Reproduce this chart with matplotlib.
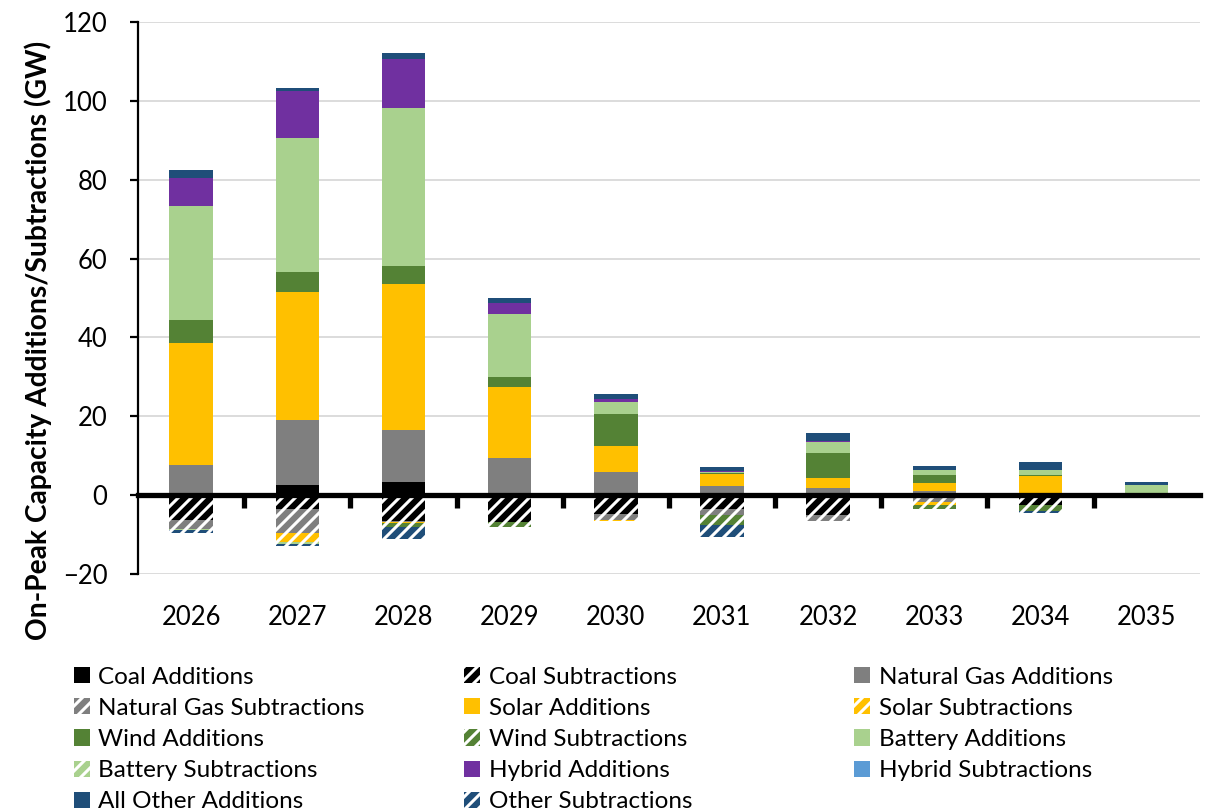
import matplotlib
matplotlib.use("Agg")
import matplotlib.pyplot as plt
import numpy as np
from matplotlib.patches import Patch

DPI = 156
S = 100.0 / DPI

plt.rcParams['font.family'] = ['Lato', 'DejaVu Sans']
plt.rcParams['hatch.linewidth'] = 2.2 * S
HATCH = '////'

years = ['2026', '2027', '2028', '2029', '2030', '2031', '2032', '2033', '2034', '2035']

# Additions (GW)
coal_add    = [0.0, 2.5, 3.4, 0.0, 0.0, 0.0, 0.0, 0.0, 0.0, 0.0]
gas_add     = [7.6, 16.5, 13.1, 9.4, 5.8, 2.4, 1.9, 1.0, 0.0, 0.0]
solar_add   = [31.1, 32.5, 37.1, 18.0, 6.6, 2.9, 2.5, 2.1, 4.8, 0.0]
wind_add    = [5.7, 5.1, 4.5, 2.6, 8.1, 0.3, 6.3, 2.1, 0.2, 0.3]
battery_add = [28.9, 34.0, 40.0, 15.9, 3.1, 0.3, 2.8, 1.1, 1.3, 2.2]
hybrid_add  = [7.2, 11.8, 12.6, 2.8, 0.9, 0.2, 0.3, 0.0, 0.0, 0.0]
other_add   = [1.9, 0.8, 1.4, 1.3, 1.1, 1.0, 2.0, 1.1, 2.2, 0.8]

# Subtractions (GW)
coal_sub    = [-6.2, -3.6, -6.5, -6.8, -4.8, -3.4, -5.1, 0.0, -2.5, 0.0]
gas_sub     = [-2.3, -6.0, -0.2, 0.0, -1.5, -1.7, -1.4, -1.7, 0.0, -0.8]
solar_sub   = [0.0, -2.2, -0.3, 0.0, -0.2, 0.0, 0.0, -0.8, 0.0, 0.0]
wind_sub    = [0.0, 0.0, -1.0, -1.2, 0.0, -2.5, 0.0, -1.0, -1.5, 0.0]
battery_sub = [-0.3, -0.5, 0.0, 0.0, 0.0, 0.0, 0.0, 0.0, 0.0, 0.0]
hybrid_sub  = [0.0, 0.0, 0.0, 0.0, 0.0, 0.0, 0.0, 0.0, 0.0, 0.0]
other_sub   = [-0.8, -0.5, -3.0, 0.0, 0.0, -3.1, 0.0, 0.0, -0.4, 0.0]

c_coal, c_gas, c_solar, c_wind = '#000000', '#7F7F7F', '#FFC000', '#548235'
c_batt, c_hyb, c_other, c_hybsub = '#A9D18E', '#7030A0', '#1F4E79', '#5B9BD5'

add_series = [('Coal Additions', coal_add, c_coal),
              ('Natural Gas Additions', gas_add, c_gas),
              ('Solar Additions', solar_add, c_solar),
              ('Wind Additions', wind_add, c_wind),
              ('Battery Additions', battery_add, c_batt),
              ('Hybrid Additions', hybrid_add, c_hyb),
              ('All Other Additions', other_add, c_other)]
sub_series = [('Coal Subtractions', coal_sub, c_coal),
              ('Natural Gas Subtractions', gas_sub, c_gas),
              ('Solar Subtractions', solar_sub, c_solar),
              ('Wind Subtractions', wind_sub, c_wind),
              ('Battery Subtractions', battery_sub, c_batt),
              ('Hybrid Subtractions', hybrid_sub, c_hybsub),
              ('Other Subtractions', other_sub, c_other)]

fig = plt.figure(figsize=(1212 / DPI, 812 / DPI), dpi=DPI)
ax = fig.add_axes([0.1139, 0.293, 0.876, 0.680])

x = np.arange(len(years))
w = 0.41
handles = {}
bottom = np.zeros(len(years))
for name, vals, col in add_series:
    v = np.array(vals)
    ax.bar(x, v, w, bottom=bottom, color=col, linewidth=0, zorder=3)
    handles[name] = Patch(facecolor=col, edgecolor='none')
    bottom += v
bottom = np.zeros(len(years))
for name, vals, col in sub_series:
    v = np.array(vals)
    if name == 'Hybrid Subtractions':
        ax.bar(x, v, w, bottom=bottom, color=col, linewidth=0, zorder=3)
        handles[name] = Patch(facecolor=col, edgecolor='none')
    else:
        ax.bar(x, v, w, bottom=bottom, facecolor=col, edgecolor='white',
               hatch=HATCH, linewidth=0, zorder=3)
        handles[name] = Patch(facecolor=col, edgecolor='white', hatch=HATCH, linewidth=0)
    bottom += v

ax.set_ylim(-20, 120)
ax.set_xlim(-0.5, len(years) - 0.5)
ax.set_yticks(np.arange(-20, 121, 20))
ax.yaxis.grid(True, color='#D9D9D9', linewidth=1.3 * S, zorder=0)
ax.set_axisbelow(True)
for s in ['top', 'right']:
    ax.spines[s].set_visible(False)
ax.spines['left'].set_linewidth(1.6 * S)
ax.spines['bottom'].set_position(('data', 0))
ax.spines['bottom'].set_linewidth(3.8 * S)
ax.spines['bottom'].set_zorder(4)
ax.set_xticks(x)
ax.set_xticklabels([])
ax.tick_params(axis='x', which='major', length=0)
ax.set_xticks(np.arange(0.5, len(years) - 0.5, 1.0), minor=True)
ax.tick_params(axis='x', which='minor', length=9 * S, width=3.8 * S, direction='out')
ax.tick_params(axis='y', length=6 * S, width=1.6 * S, labelsize=18.5 * S, pad=16 * S)

sec = ax.secondary_xaxis(0.0)
sec.set_xticks(x)
sec.set_xticklabels(years)
sec.tick_params(length=0, labelsize=18.5 * S, pad=22 * S)
sec.spines['bottom'].set_visible(False)

ax.set_ylabel('On-Peak Capacity Additions/Subtractions (GW)', fontsize=20.3 * S,
              fontweight='bold')
ax.yaxis.set_label_coords(-0.081, 0.424)

order_cols = [['Coal Additions', 'Natural Gas Subtractions', 'Wind Additions',
               'Battery Subtractions', 'All Other Additions'],
              ['Coal Subtractions', 'Solar Additions', 'Wind Subtractions',
               'Hybrid Additions', 'Other Subtractions'],
              ['Natural Gas Additions', 'Solar Subtractions', 'Battery Additions',
               'Hybrid Subtractions']]
xs = [0.061, 0.383, 0.705]
for xc, names in zip(xs, order_cols):
    fig.legend([handles[n] for n in names], names, loc='upper left',
               bbox_to_anchor=(xc, 0.179), frameon=False, fontsize=17.5 * S,
               handlelength=0.65, handleheight=0.65, handletextpad=0.35,
               labelspacing=0.42, borderaxespad=0, borderpad=0)

fig.savefig('out.png', dpi=DPI)
